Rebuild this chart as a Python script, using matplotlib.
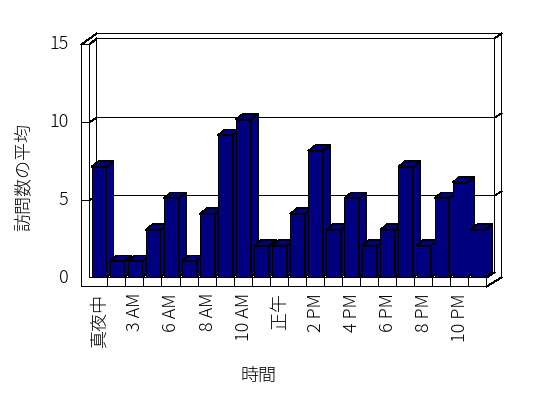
import matplotlib
matplotlib.use("Agg")
import matplotlib.pyplot as plt
from matplotlib.patches import Polygon

plt.rcParams['font.family'] = ['Noto Sans CJK JP', 'DejaVu Sans']

# ---- data ----
categories = ['真夜中', '1 AM', '3 AM', '5 AM', '6 AM', '7 AM', '8 AM', '9 AM',
              '10 AM', '11 AM', '正午', '1 PM', '2 PM', '3 PM', '4 PM', '5 PM',
              '6 PM', '7 PM', '8 PM', '9 PM', '10 PM', '11 PM']
values = [7, 1, 1, 3, 5, 1, 4, 9, 10, 2, 2, 4, 8, 3, 5, 2, 3, 7, 2, 5, 6, 3]
y_ticks = [0, 5, 10, 15]
x_title = '時間'
y_title = '訪問数の平均'

# ---- figure / axes (1 x-unit = one category, 1 y-unit = one visit) ----
W, H, DPI = 548, 398, 100
fig = plt.figure(figsize=(W / DPI, H / DPI), dpi=DPI)
ax = fig.add_axes([0, 0, 1, 1])
PX_X, PX_Y = 18.05, 15.75          # pixels per unit
X_ORIG, Y_ORIG = 98.3, 277.0        # pixel position of x=0, y=0
ax.set_xlim(-X_ORIG / PX_X, (W - X_ORIG) / PX_X)
ax.set_ylim((Y_ORIG - H) / PX_Y, Y_ORIG / PX_Y)
ax.axis('off')

n = len(values)
navy = '#000080'
LW = 0.6
AA = False
FS = 13

# 3-D wall geometry (in data units)
XL_OUT = -0.94          # outer edge of side wall front face
XL_IN = -0.5            # inner edge of side wall front face
XR = n - 0.5            # right end of floor front face
DXW = 0.40              # wall depth step in x
YB = -0.57              # bottom of floor slab
FLOOR_BACK = 0.30
OUT_DY = 0.33


def yf(v):
    return v * 0.993 - 0.08


def yb(v):
    return v * 0.993 + 0.25


def line(xs, ys, z=1):
    # draw as separate 2-point segments so straight ones snap to pixels
    for k in range(len(xs) - 1):
        ax.plot(xs[k:k + 2], ys[k:k + 2], color='black', lw=LW, zorder=z,
                solid_capstyle='projecting', antialiased=AA, snap=True)


vmax = y_ticks[-1]
bx0, bx1 = XL_IN + DXW, XR + DXW
# side wall front face
line([XL_OUT, XL_OUT, XL_IN, XL_IN], [YB, yf(vmax), yf(vmax), 0])
# side wall top
line([XL_OUT, XL_OUT + 2 * DXW], [yf(vmax), yb(vmax) + OUT_DY])
line([XL_IN, bx0], [yf(vmax), yb(vmax)])
# back wall
line([XL_OUT + 2 * DXW, bx1 + DXW, bx1 + DXW], [yb(vmax) + OUT_DY, yb(vmax) + OUT_DY, 0.02])
line([bx0, bx1], [yb(vmax), yb(vmax)])
line([bx1, bx1 + DXW], [yb(vmax), yb(vmax) + OUT_DY])
line([bx0, bx0], [yb(vmax), FLOOR_BACK])
line([bx1, bx1], [yb(vmax), FLOOR_BACK])
# floor
line([XL_IN, XR, XR, XL_OUT], [0, 0, YB, YB])
line([XR, bx1], [0, FLOOR_BACK])
line([XR, bx1 + DXW], [YB, 0.02])
line([bx0, bx1], [FLOOR_BACK, FLOOR_BACK])
for k in range(1, n):
    line([XL_IN + k, XL_IN + k], [YB, 0])
# gridlines + ticks
for v in y_ticks[1:-1]:
    line([XL_OUT, XL_IN, bx0, bx1, bx1 + DXW],
         [yf(v), yf(v), yb(v), yb(v), yb(v) + 0.25])
for v in y_ticks:
    ax.text(-1.66, yf(v), str(v), ha='right', va='center', fontsize=FS,
            fontweight='light')

# ---- bars ----
BW, BOFF = 0.82, 0.04
DX, DY = 0.39, 0.36
bars = ax.bar([i + BOFF for i in range(n)], values, width=BW, color=navy,
              edgecolor='black', linewidth=LW, antialiased=AA)
for i, (p, v) in enumerate(zip(bars.patches, values)):
    z = 10 + i
    p.set_zorder(z)
    l = i + BOFF - BW / 2
    r = i + BOFF + BW / 2
    side = Polygon([(r, 0), (r + DX, DY), (r + DX, v + DY), (r, v)], closed=True,
                   facecolor=navy, edgecolor='black', lw=LW, zorder=z,
                   antialiased=AA)
    top = Polygon([(l, v), (r, v), (r + DX, v + DY), (l + DX, v + DY)], closed=True,
                  facecolor=navy, edgecolor='black', lw=LW, zorder=z,
                  antialiased=AA)
    ax.add_patch(side)
    ax.add_patch(top)

# ---- category labels (every other) ----
for i, c in enumerate(categories):
    if i % 2 == 0:
        ax.text(i + 0.05, -1.02, c, rotation=90, ha='center', va='top',
                fontsize=FS, fontweight='light')

ax.text(8.9, -6.29, x_title, ha='center', va='center', fontsize=FS,
        fontweight='light')
ax.text(-4.12, 6.35, y_title, rotation=90, ha='center', va='center',
        fontsize=FS, fontweight='light')

fig.savefig('out.png', dpi=DPI, facecolor='white')
